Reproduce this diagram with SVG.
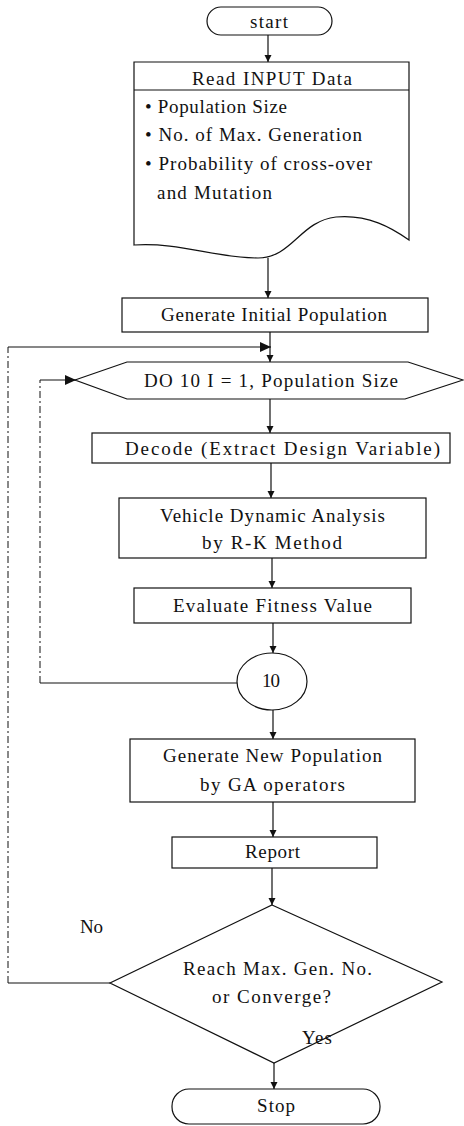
<svg xmlns="http://www.w3.org/2000/svg" width="464" height="1126" viewBox="0 0 464 1126">
<style>
  .shape { fill: #ffffff; stroke: #111111; stroke-width: 1.2; }
  .t { font-family: "Liberation Serif", "Times New Roman", serif; font-size: 19px; fill: #111111; }
  .c { text-anchor: middle; }
  .line { fill: none; stroke: #111111; stroke-width: 1.2; }
  .dash { fill: none; stroke: #111111; stroke-width: 1; stroke-dasharray: 7 3 2 3; }
</style>
<defs>
  <marker id="arr" markerUnits="userSpaceOnUse" markerWidth="8" markerHeight="8" refX="7" refY="4" orient="auto">
    <path d="M0,0.5 L7,4 L0,7.5 Z" fill="#111111"/>
  </marker>
  <marker id="arrBig" markerUnits="userSpaceOnUse" markerWidth="12" markerHeight="10" refX="11" refY="5" orient="auto">
    <path d="M0,0 L11,5 L0,10 Z" fill="#111111"/>
  </marker>
</defs>
<rect width="464" height="1126" fill="#ffffff"/>

<g id="connectors">
  <line class="line" x1="268" y1="35" x2="268" y2="62" marker-end="url(#arr)"/>
  <line class="line" x1="268" y1="258" x2="268" y2="298" marker-end="url(#arr)"/>
  <line class="line" x1="270" y1="332" x2="270" y2="362" marker-end="url(#arr)"/>
  <line class="line" x1="270" y1="399" x2="270" y2="433" marker-end="url(#arr)"/>
  <line class="line" x1="271" y1="463" x2="271" y2="498" marker-end="url(#arr)"/>
  <line class="line" x1="272" y1="558" x2="272" y2="588" marker-end="url(#arr)"/>
  <line class="line" x1="273" y1="623" x2="273" y2="653" marker-end="url(#arr)"/>
  <line class="line" x1="273" y1="710" x2="273" y2="739" marker-end="url(#arr)"/>
  <line class="line" x1="273" y1="802" x2="273" y2="837" marker-end="url(#arr)"/>
  <line class="line" x1="272" y1="868" x2="272" y2="905" marker-end="url(#arr)"/>
  <line class="line" x1="274" y1="1063" x2="274" y2="1089" marker-end="url(#arr)"/>
  <!-- inner loop -->
  <line class="line" x1="237" y1="683" x2="40" y2="683"/>
  <line class="dash" x1="40" y1="683" x2="40" y2="380"/>
  <line class="line" x1="40" y1="380" x2="76" y2="380" marker-end="url(#arrBig)"/>
  <!-- outer loop (No) -->
  <line class="line" x1="110" y1="983" x2="8" y2="983"/>
  <line class="dash" x1="8" y1="983" x2="8" y2="347"/>
  <line class="line" x1="8" y1="347" x2="271" y2="347" marker-end="url(#arrBig)"/>
</g>

<g id="start">
  <rect class="shape" x="207" y="7" width="125" height="28" rx="14" ry="14"/>
  <text class="t" x="250" y="28" font-size="18" textLength="38" lengthAdjust="spacing">start</text>
</g>

<g id="read-input">
  <path class="shape" d="M134,62 H409 V240 C392,228 368,214 336,217 C300,221 292,258 258,258 C215,258 180,242 134,245 Z"/>
  <line class="line" x1="134" y1="90" x2="409" y2="90"/>
  <text class="t" x="192" y="85" textLength="160" lengthAdjust="spacing">Read INPUT Data</text>
  <text class="t" x="145" y="113" textLength="142" lengthAdjust="spacing">• Population Size</text>
  <text class="t" x="145" y="141" textLength="217" lengthAdjust="spacing">• No. of Max. Generation</text>
  <text class="t" x="145" y="170" textLength="227" lengthAdjust="spacing">• Probability of cross-over</text>
  <text class="t" x="157" y="199" textLength="115" lengthAdjust="spacing">and Mutation</text>
</g>

<g id="gen-initial">
  <rect class="shape" x="122" y="298" width="306" height="34"/>
  <text class="t" x="161" y="321" textLength="226" lengthAdjust="spacing">Generate Initial Population</text>
</g>

<g id="do-loop">
  <polygon class="shape" points="75,380 127,362 408,362 463,380 405,399 127,399"/>
  <text class="t" x="144" y="387" textLength="254" lengthAdjust="spacing">DO 10 I = 1, Population Size</text>
</g>

<g id="decode">
  <rect class="shape" x="92" y="433" width="358" height="30"/>
  <text class="t" x="125" y="455" textLength="315" lengthAdjust="spacing">Decode (Extract Design Variable)</text>
</g>

<g id="vehicle">
  <rect class="shape" x="119" y="498" width="307" height="60"/>
  <text class="t" x="160" y="522" textLength="225" lengthAdjust="spacing">Vehicle Dynamic Analysis</text>
  <text class="t" x="202" y="549" textLength="140" lengthAdjust="spacing">by R-K Method</text>
</g>

<g id="evaluate">
  <rect class="shape" x="134" y="588" width="277" height="35"/>
  <text class="t" x="173" y="612" textLength="199" lengthAdjust="spacing">Evaluate Fitness Value</text>
</g>

<g id="label-10">
  <ellipse class="shape" cx="272" cy="681.5" rx="35" ry="28.5"/>
  <text class="t" x="262" y="687" textLength="18" lengthAdjust="spacing">10</text>
</g>

<g id="gen-new">
  <rect class="shape" x="130" y="739" width="285" height="63"/>
  <text class="t" x="163" y="762" textLength="219" lengthAdjust="spacing">Generate New Population</text>
  <text class="t" x="200" y="791" textLength="145" lengthAdjust="spacing">by GA operators</text>
</g>

<g id="report">
  <rect class="shape" x="172" y="837" width="205" height="31"/>
  <text class="t" x="245" y="858" textLength="55" lengthAdjust="spacing">Report</text>
</g>

<g id="decision">
  <polygon class="shape" points="272,905 442,982 274,1063 110,983"/>
  <text class="t" x="183" y="975" textLength="189" lengthAdjust="spacing">Reach Max. Gen. No.</text>
  <text class="t" x="212" y="1003" textLength="119" lengthAdjust="spacing">or Converge?</text>
</g>

<g id="stop">
  <rect class="shape" x="172" y="1089" width="208" height="35" rx="17" ry="17"/>
  <text class="t" x="257" y="1112" textLength="38" lengthAdjust="spacing">Stop</text>
</g>

<g id="branch-labels">
  <text class="t" x="80" y="933" textLength="23" lengthAdjust="spacing">No</text>
  <text class="t" x="302" y="1044" textLength="30" lengthAdjust="spacing">Yes</text>
</g>
</svg>
